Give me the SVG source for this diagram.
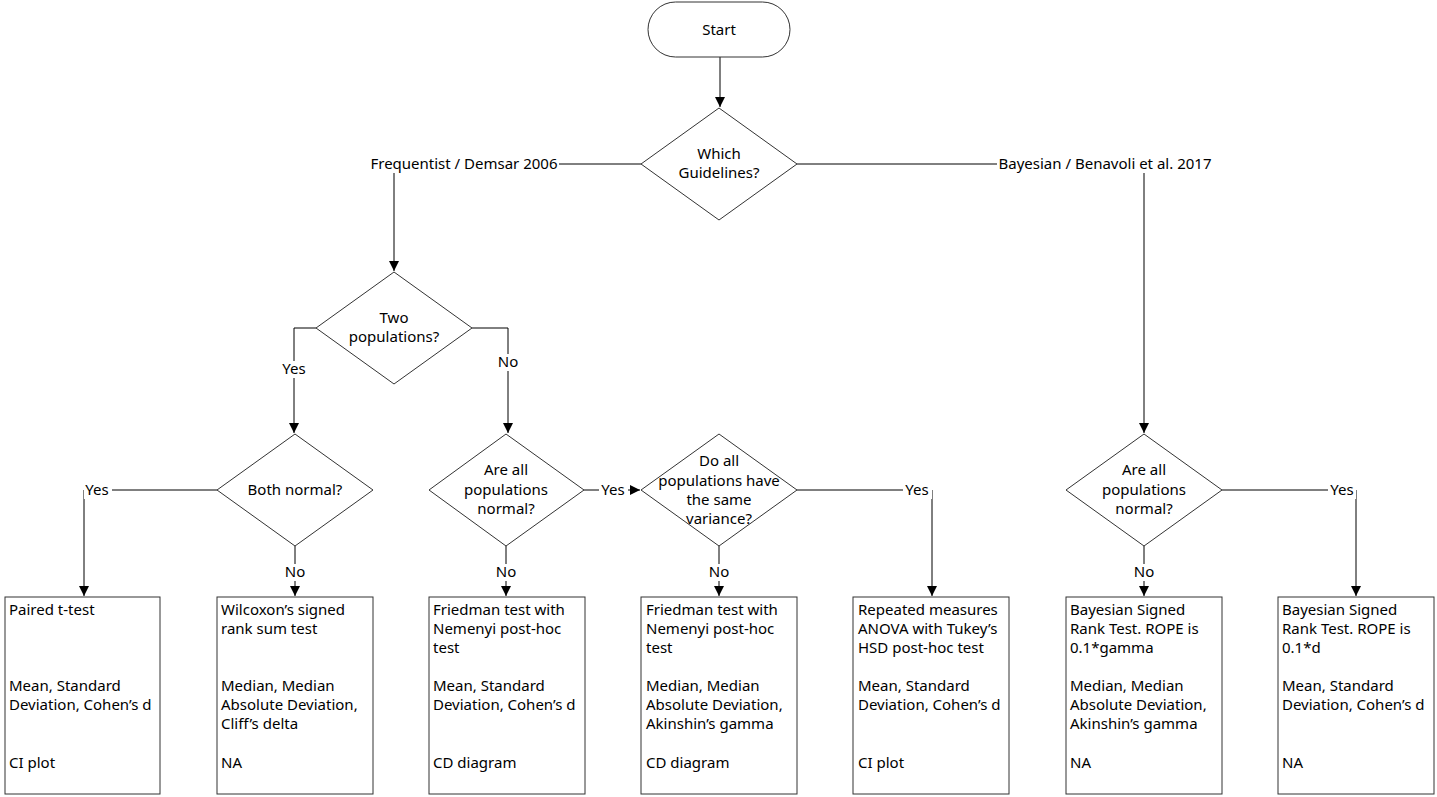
<svg xmlns="http://www.w3.org/2000/svg" width="1437" height="797" viewBox="0 0 1437 797">
<defs>
<marker id="arr" viewBox="0 0 10 10" refX="10" refY="5" markerWidth="10" markerHeight="10" markerUnits="userSpaceOnUse" orient="auto">
<path d="M0,0 L10,5 L0,10 z" fill="#000"/>
</marker>
<style>
.shape{fill:#fff;stroke:#333;stroke-width:1}
.t{font-family:"Noto Sans","Open Sans","Liberation Sans",sans-serif;font-size:15px;fill:#000}
.c{text-anchor:middle}
.edge{fill:none;stroke:#000;stroke-width:1}
.arrow{marker-end:url(#arr)}
.lbg{fill:#fff}
</style>
</defs>
<rect width="1437" height="797" fill="#fff"/>
<g id="connectors">
<path class="edge arrow" d="M720,57 L720,107"/>
<path class="edge arrow" d="M641,164 L394,164 L394,271"/>
<path class="edge arrow" d="M797,164 L1144,164 L1144,433"/>
<path class="edge arrow" d="M316,328 L294,328 L294,433"/>
<path class="edge arrow" d="M472,328 L508,328 L508,433"/>
<path class="edge arrow" d="M217,490 L84,490 L84,596"/>
<path class="edge arrow" d="M295,546 L295,596"/>
<path class="edge arrow" d="M584,490 L640,490"/>
<path class="edge arrow" d="M506,546 L506,596"/>
<path class="edge arrow" d="M797,490 L932,490 L932,596"/>
<path class="edge arrow" d="M719,546 L719,596"/>
<path class="edge arrow" d="M1222,490 L1356,490 L1356,596"/>
<path class="edge arrow" d="M1144,546 L1144,596"/>
<g id="edge-labels">
<rect class="lbg" x="369" y="155" width="190" height="18"/>
<text class="t c" x="464" y="169">Frequentist / Demsar 2006</text>
<rect class="lbg" x="997" y="155" width="216" height="18"/>
<text class="t c" x="1105" y="169">Bayesian / Benavoli et al. 2017</text>
<rect class="lbg" x="280" y="361" width="29" height="17"/>
<text class="t c" x="294" y="374">Yes</text>
<rect class="lbg" x="496" y="354" width="24" height="17"/>
<text class="t c" x="508" y="367">No</text>
<rect class="lbg" x="84" y="482" width="28" height="17"/>
<text class="t c" x="97" y="495">Yes</text>
<rect class="lbg" x="283" y="564" width="24" height="17"/>
<text class="t c" x="295" y="577">No</text>
<rect class="lbg" x="599" y="482" width="29" height="17"/>
<text class="t c" x="613" y="495">Yes</text>
<rect class="lbg" x="494" y="564" width="24" height="17"/>
<text class="t c" x="506" y="577">No</text>
<rect class="lbg" x="903" y="482" width="29" height="17"/>
<text class="t c" x="917" y="495">Yes</text>
<rect class="lbg" x="707" y="564" width="24" height="17"/>
<text class="t c" x="719" y="577">No</text>
<rect class="lbg" x="1328" y="482" width="28" height="17"/>
<text class="t c" x="1342" y="495">Yes</text>
<rect class="lbg" x="1132" y="564" width="24" height="17"/>
<text class="t c" x="1144" y="577">No</text>
</g>
</g>
<g id="start">
<rect class="shape" x="648" y="2" width="142" height="55" rx="27.5"/>
<text class="t c" x="719" y="35">Start</text>
</g>
<g id="which-guidelines">
<path class="shape" d="M719,108 L797,164 L719,220 L641,164 z"/>
<text class="t c" x="719" y="159">Which</text>
<text class="t c" x="719" y="178">Guidelines?</text>
</g>
<g id="two-populations">
<path class="shape" d="M394,272 L472,328 L394,384 L316,328 z"/>
<text class="t c" x="394" y="323">Two</text>
<text class="t c" x="394" y="342">populations?</text>
</g>
<g id="both-normal">
<path class="shape" d="M295,434 L373,490 L295,546 L217,490 z"/>
<text class="t c" x="295" y="495">Both normal?</text>
</g>
<g id="all-normal-freq">
<path class="shape" d="M506,434 L584,490 L506,546 L429,490 z"/>
<text class="t c" x="506" y="475">Are all</text>
<text class="t c" x="506" y="495">populations</text>
<text class="t c" x="506" y="514">normal?</text>
</g>
<g id="same-variance">
<path class="shape" d="M719,434 L797,490 L719,546 L641,490 z"/>
<text class="t c" x="719" y="466">Do all</text>
<text class="t c" x="719" y="486">populations have</text>
<text class="t c" x="719" y="505">the same</text>
<text class="t c" x="719" y="524">variance?</text>
</g>
<g id="all-normal-bayes">
<path class="shape" d="M1144,434 L1222,490 L1144,546 L1066,490 z"/>
<text class="t c" x="1144" y="475">Are all</text>
<text class="t c" x="1144" y="495">populations</text>
<text class="t c" x="1144" y="514">normal?</text>
</g>
<g id="paired-t-test">
<rect class="shape" x="5" y="597" width="155" height="197"/>
<text class="t" x="9" y="615">Paired t-test</text>
<text class="t" x="9" y="691">Mean, Standard</text>
<text class="t" x="9" y="710">Deviation, Cohen’s d</text>
<text class="t" x="9" y="768">CI plot</text>
</g>
<g id="wilcoxon">
<rect class="shape" x="217" y="597" width="156" height="197"/>
<text class="t" x="221" y="615">Wilcoxon’s signed</text>
<text class="t" x="221" y="634">rank sum test</text>
<text class="t" x="221" y="691">Median, Median</text>
<text class="t" x="221" y="710">Absolute Deviation,</text>
<text class="t" x="221" y="729">Cliff’s delta</text>
<text class="t" x="221" y="768">NA</text>
</g>
<g id="friedman-1">
<rect class="shape" x="429" y="597" width="156" height="197"/>
<text class="t" x="433" y="615">Friedman test with</text>
<text class="t" x="433" y="634">Nemenyi post-hoc</text>
<text class="t" x="433" y="653">test</text>
<text class="t" x="433" y="691">Mean, Standard</text>
<text class="t" x="433" y="710">Deviation, Cohen’s d</text>
<text class="t" x="433" y="768">CD diagram</text>
</g>
<g id="friedman-2">
<rect class="shape" x="641" y="597" width="156" height="197"/>
<text class="t" x="646" y="615">Friedman test with</text>
<text class="t" x="646" y="634">Nemenyi post-hoc</text>
<text class="t" x="646" y="653">test</text>
<text class="t" x="646" y="691">Median, Median</text>
<text class="t" x="646" y="710">Absolute Deviation,</text>
<text class="t" x="646" y="729">Akinshin’s gamma</text>
<text class="t" x="646" y="768">CD diagram</text>
</g>
<g id="repeated-anova">
<rect class="shape" x="853" y="597" width="156" height="197"/>
<text class="t" x="858" y="615">Repeated measures</text>
<text class="t" x="858" y="634">ANOVA with Tukey’s</text>
<text class="t" x="858" y="653">HSD post-hoc test</text>
<text class="t" x="858" y="691">Mean, Standard</text>
<text class="t" x="858" y="710">Deviation, Cohen’s d</text>
<text class="t" x="858" y="768">CI plot</text>
</g>
<g id="bayes-gamma">
<rect class="shape" x="1066" y="597" width="156" height="197"/>
<text class="t" x="1070" y="615">Bayesian Signed</text>
<text class="t" x="1070" y="634">Rank Test. ROPE is</text>
<text class="t" x="1070" y="653">0.1*gamma</text>
<text class="t" x="1070" y="691">Median, Median</text>
<text class="t" x="1070" y="710">Absolute Deviation,</text>
<text class="t" x="1070" y="729">Akinshin’s gamma</text>
<text class="t" x="1070" y="768">NA</text>
</g>
<g id="bayes-d">
<rect class="shape" x="1278" y="597" width="156" height="197"/>
<text class="t" x="1282" y="615">Bayesian Signed</text>
<text class="t" x="1282" y="634">Rank Test. ROPE is</text>
<text class="t" x="1282" y="653">0.1*d</text>
<text class="t" x="1282" y="691">Mean, Standard</text>
<text class="t" x="1282" y="710">Deviation, Cohen’s d</text>
<text class="t" x="1282" y="768">NA</text>
</g>
</svg>
